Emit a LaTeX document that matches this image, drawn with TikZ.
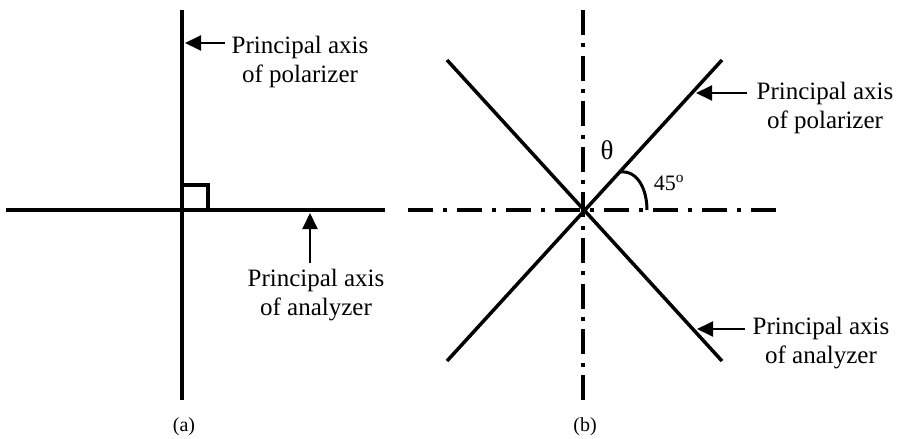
\documentclass[tikz,border=0pt]{standalone}
\usepackage{fontspec}
\setmainfont{Liberation Serif}
\usetikzlibrary{arrows.meta}
\begin{document}
\begin{tikzpicture}[x=1pt,y=-1pt,
  axisline/.style={line width=3.9pt},
  diagline/.style={line width=3.5pt},
  dashdotv/.style={line width=3.7pt, dash pattern=on 25pt off 8.3pt on 4pt off 8.3pt},
  dashdoth/.style={line width=3.7pt, dash pattern=on 25pt off 10pt on 4pt off 10pt},
  pointer/.style={line width=1.9pt, -{Triangle[length=16pt,width=15pt]}},
  lbl/.style={font=\fontsize{25}{29}\selectfont, align=center, inner sep=0pt, anchor=base},
  caption/.style={font=\fontsize{20}{24}\selectfont, inner sep=0pt, anchor=base},
]
\useasboundingbox (0,0) rectangle (898,439);
% ---------- panel (a)
\coordinate (Oa) at (182,210);
\draw[axisline] (182,10) -- (182,400);
\draw[axisline] (6,210) -- (385,210);
\draw[line width=3.5pt] (182,185) -| (208,210);
\node[lbl] (pa) at (300,82) {Principal axis\\of polarizer};
\coordinate (pat) at (225,43);
\coordinate (pah) at (185,43);
\draw[pointer] (pat) -- (pah);
\node[lbl] (aa) at (316,315) {Principal axis\\of analyzer};
\coordinate (aat) at (310,263);
\coordinate (aah) at (310,213);
\draw[pointer] (aat) -- (aah);
\node[caption] (capa) at (184,431) {(a)};
% ---------- panel (b)
\coordinate (Ob) at (583,210);
\draw[dashdotv] (583,10) -- (583,400);
\draw[dashdoth] (408,210) -- (776,210);
\draw[diagline] (447,361) -- (722,60);
\draw[diagline] (447,60) -- (722,361);
\draw[line width=3pt] (620,172) .. controls (638,170) and (647,190) .. (647,210);
\node[font=\fontsize{27}{30}\selectfont, inner sep=0pt] (theta) at (607,150) {θ};
\node[font=\fontsize{22}{26}\selectfont, inner sep=0pt, anchor=base] (ang) at (669,190) {45\textsuperscript{o}};
\node[lbl] (pb) at (825,128) {Principal axis\\of polarizer};
\coordinate (pbt) at (747,93);
\coordinate (pbh) at (696,93);
\draw[pointer] (pbt) -- (pbh);
\node[lbl] (ab) at (821,363) {Principal axis\\of analyzer};
\coordinate (abt) at (745,329);
\coordinate (abh) at (697,329);
\draw[pointer] (abt) -- (abh);
\node[caption] (capb) at (585,431) {(b)};
\end{tikzpicture}
\end{document}
